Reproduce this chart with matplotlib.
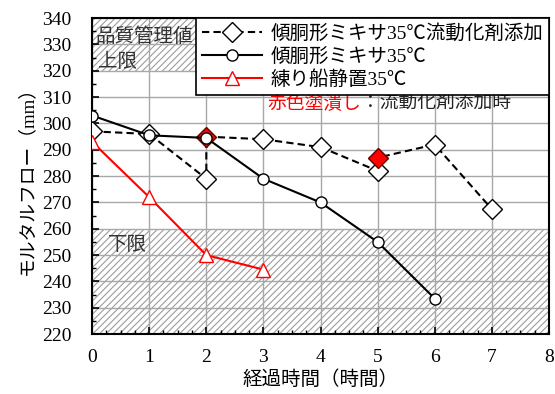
import numpy as np
import matplotlib.pyplot as plt
from matplotlib.ticker import MultipleLocator

plt.rcParams['font.family'] = ['Liberation Serif', 'Noto Sans CJK JP']
plt.rcParams['hatch.color'] = '#9c9c9c'
plt.rcParams['hatch.linewidth'] = 0.8

# 傾胴形ミキサ35℃流動化剤添加 (同じ時間に添加前・添加後の2点)
x_tenka = [0, 1, 2, 2, 3, 4, 5, 5, 6, 7]
y_tenka = [297, 296, 279, 295, 294, 291, 282, 287, 292, 267.5]
aka = [3, 7]  # 流動化剤添加時の点
# 傾胴形ミキサ35℃
x_mixer = [0, 1, 2, 3, 4, 5, 6]
y_mixer = [303, 295.5, 294.5, 279, 270, 255, 233.5]
# 練り船静置35℃
x_fune = [0, 1, 2, 3]
y_fune = [293, 272, 250, 244.5]

jougen = (320, 340)
kagen = (220, 260)

fig = plt.figure(figsize=(5.55, 3.94), dpi=100)
ax = fig.add_axes([0.166, 0.152, 0.823, 0.802])

ax.set_xlim(0, 8)
ax.set_ylim(220, 340)
ax.xaxis.set_major_locator(MultipleLocator(1))
ax.xaxis.set_minor_locator(MultipleLocator(0.25))
ax.yaxis.set_major_locator(MultipleLocator(10))
ax.yaxis.set_minor_locator(MultipleLocator(5))
ax.grid(True, which='major', color='#a8a8a8', lw=1.0, zorder=1)
ax.set_axisbelow(True)

# 品質管理値の範囲 (ハッチング)
for lo, hi in (jougen, kagen):
    ax.axhspan(lo, hi, facecolor='white', edgecolor='#9c9c9c', hatch='/////',
               lw=0, zorder=0.5)

ax.tick_params(which='both', direction='in', labelsize=14)
ax.tick_params(which='major', length=5, width=1.2)
ax.tick_params(which='minor', length=3, width=1.0)
ax.tick_params(axis='x', pad=11)
ax.tick_params(axis='y', pad=15)
for s in ax.spines.values():
    s.set_linewidth(1.5)

shiro = [i for i in range(len(x_tenka)) if i not in aka]
ax.plot(x_tenka, y_tenka, color='black', ls=(0, (3.5, 2)), lw=1.5, marker='D',
        ms=10, mfc='white', mec='black', mew=1.0, markevery=shiro, zorder=3,
        label='傾胴形ミキサ35℃流動化剤添加')
ax.plot([x_tenka[i] for i in aka], [y_tenka[i] for i in aka], ls='none',
        marker='D', ms=10, mfc='red', mec='#600000', mew=1.0, zorder=3.5)
ax.plot(x_mixer, y_mixer, color='black', lw=1.5, marker='o', ms=8,
        mfc='white', mec='black', mew=1.0, zorder=4,
        label='傾胴形ミキサ35℃')
ax.plot(x_fune, y_fune, color='red', lw=1.5, marker='^', ms=10,
        mfc='white', mec='red', mew=1.0, zorder=4,
        label='練り船静置35℃')

leg = ax.legend(loc='upper right', bbox_to_anchor=(1, 1), borderaxespad=0,
                fontsize=14, handlelength=3.1, handletextpad=0.4,
                labelspacing=0.25, borderpad=0.3, fancybox=False,
                framealpha=1, edgecolor='black')
leg.get_frame().set_linewidth(1.2)
leg.set_zorder(6)

ax.text(0.06, 336.5, '品質管理値', fontsize=14, color='#333333', va='top', zorder=5)
ax.text(0.1, 327, '上限', fontsize=14, color='#333333', va='top', zorder=5)
ax.text(0.27, 257, '下限', fontsize=14, color='#333333', va='top', zorder=5)

t_aka = ax.text(3.07, 307.3, '赤色塗潰し', fontsize=13.5, color='red',
                va='center', zorder=5)
ax.annotate('：流動化剤添加時', xy=(1, 0.5), xycoords=t_aka, va='center',
            fontsize=13.5, color='#222222', zorder=5)

ax.set_xlabel('経過時間（時間）', fontsize=14, labelpad=3)
ax.set_ylabel('モルタルフロー（mm）', fontsize=13.5, labelpad=4)

fig.savefig('out.png', dpi=100)
